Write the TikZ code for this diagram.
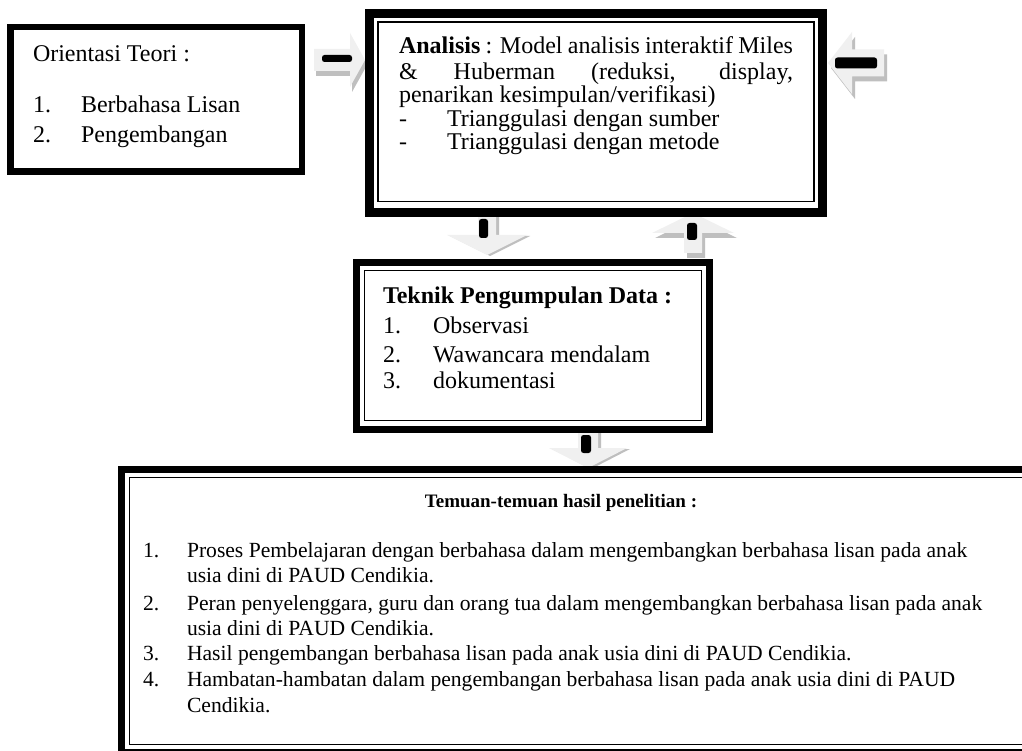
\documentclass[tikz,border=0pt]{standalone}
\usepackage{fontspec}
\setmainfont{Liberation Serif}
\newcommand{\arrshape}[4]{(-#1,-#3) -- (-#2,-#3) -- (-#2,-#4) -- (0,0) -- (-#2,#4) -- (-#2,#3) -- (-#1,#3) -- cycle}
\tikzset{
  framebox/.style={draw=black, fill=white, line width=#1, inner sep=0pt, outer sep=0pt},
  innerline/.style={draw=black, line width=1.6pt},
  txt/.style={anchor=base west, inner sep=0pt, outer sep=0pt, font=\fontsize{24}{28}\selectfont},
  smalltxt/.style={anchor=base west, inner sep=0pt, outer sep=0pt, font=\fontsize{21.6}{26}\selectfont},
  headtxt/.style={anchor=base, inner sep=0pt, outer sep=0pt, font=\fontsize{19}{22}\selectfont\bfseries},
  arrface/.style={fill=black!6},
  arrshadow/.style={fill=black!25},
  arrbar/.style={fill=black, rounded corners=2.5pt},
}
\begin{document}
\begin{tikzpicture}[x=1pt, y=-1pt]
\useasboundingbox (0,0) rectangle (1022,751);
\clip (0,0) rectangle (1022,751);
\fill[white] (0,0) rectangle (1022,751);

% ---- block arrows (shadow, face, bar) ----
% right arrow between Orientasi and Analisis
\begin{scope}[shift={(367,65)}]
  \fill[arrshadow] \arrshape{51}{15}{11}{27};
\end{scope}
\begin{scope}[shift={(365,60)}]
  \fill[arrface] \arrshape{51}{15}{11}{27};
  \fill[arrbar] (-43,-5) rectangle (-13,2);
\end{scope}
% left arrow at right of Analisis
\begin{scope}[shift={(831,68)}, rotate=180]
  \fill[arrshadow] \arrshape{56}{24}{13.5}{31};
\end{scope}
\begin{scope}[shift={(828,63)}, rotate=180]
  \fill[arrface] \arrshape{56}{24}{13.5}{31};
  \fill[arrbar] (-49,-5.5) rectangle (-7,5.5);
\end{scope}
% down arrow Analisis -> Teknik
\begin{scope}[shift={(490,256)}, rotate=-90]
  \fill[arrshadow] \arrshape{40}{20}{9}{40};
\end{scope}
\begin{scope}[shift={(487,255)}, rotate=-90]
  \fill[arrface] \arrshape{40}{20}{9}{40};
  \fill[arrbar] (-36,-1) rectangle (-17,8);
\end{scope}
% up arrow Teknik -> Analisis
\begin{scope}[shift={(696,218)}, rotate=90]
  \fill[arrshadow] \arrshape{40}{20}{9}{41};
\end{scope}
\begin{scope}[shift={(693,213)}, rotate=90]
  \fill[arrface] \arrshape{40}{20}{9}{41};
  \fill[arrbar] (-27,-6) rectangle (-10,4);
\end{scope}
% down arrow Teknik -> Temuan
\begin{scope}[shift={(591,469)}, rotate=-90]
  \fill[arrshadow] \arrshape{41}{20}{10}{39};
\end{scope}
\begin{scope}[shift={(588,468)}, rotate=-90]
  \fill[arrface] \arrshape{41}{20}{10}{39};
  \fill[arrbar] (-33,-3) rectangle (-15,7);
\end{scope}

% ---- boxes ----
\node[framebox=6.5pt, minimum width=291.5pt, minimum height=144.5pt] (orient) at (156,99.5) {};
\node[framebox=9pt, minimum width=453pt, minimum height=199pt] (analisis) at (596,113) {};
\draw[innerline] ([shift={(8.5,8.5)}]analisis.north west) rectangle ([shift={(-8.5,-11)}]analisis.south east);
\node[framebox=7pt, minimum width=353pt, minimum height=167pt] (teknik) at (533,346) {};
\draw[innerline] ([shift={(8,8)}]teknik.north west) rectangle ([shift={(-8,-9)}]teknik.south east);
\node[framebox=7pt, minimum width=930pt, minimum height=283pt] (temuan) at (586.5,611) {};
\draw[innerline] ([shift={(8,8)}]temuan.north west) rectangle ([shift={(-8,-8)}]temuan.south east);

% ---- Orientasi text ----
\node[txt] (ot) at (33,62) {Orientasi Teori :};
\node[txt] (o1n) at (33,113) {1.};
\node[txt] (o1) at (81,113) {Berbahasa Lisan};
\node[txt] (o2n) at (33,143) {2.};
\node[txt] (o2) at (81,143) {Pengembangan};

% ---- Analisis text ----
\node[txt] (a1) at (399,54) {\makebox[394pt][s]{\textbf{Analisis} : Model analisis interaktif Miles}};
\node[txt] (a2) at (399,80) {\makebox[394pt][s]{\& Huberman (reduksi, display,}};
\node[txt] (a3) at (399,103) {penarikan kesimpulan/verifikasi)};
\node[txt] (a4d) at (399,127) {-};
\node[txt] (a4) at (447,127) {Trianggulasi dengan sumber};
\node[txt] (a5d) at (399,150) {-};
\node[txt] (a5) at (447,150) {Trianggulasi dengan metode};

% ---- Teknik text ----
\node[txt] (t0) at (383,303) {\textbf{Teknik Pengumpulan Data :}};
\node[txt] (t1n) at (383,333) {1.};
\node[txt] (t1) at (433,333) {Observasi};
\node[txt] (t2n) at (383,362) {2.};
\node[txt] (t2) at (433,362) {Wawancara mendalam};
\node[txt] (t3n) at (383,388) {3.};
\node[txt] (t3) at (433,388) {dokumentasi};

% ---- Temuan text ----
\node[headtxt] (th) at (561,507) {Temuan-temuan hasil penelitian :};
\node[smalltxt] (l1n) at (143,557) {1.};
\node[smalltxt] (l1a) at (187,557) {Proses Pembelajaran dengan berbahasa dalam mengembangkan berbahasa lisan pada anak};
\node[smalltxt] (l1b) at (187,582) {usia dini di PAUD Cendikia.};
\node[smalltxt] (l2n) at (143,610) {2.};
\node[smalltxt] (l2a) at (187,610) {Peran penyelenggara, guru dan orang tua dalam mengembangkan berbahasa lisan pada anak};
\node[smalltxt] (l2b) at (187,635) {usia dini di PAUD Cendikia.};
\node[smalltxt] (l3n) at (143,660) {3.};
\node[smalltxt] (l3) at (187,660) {Hasil pengembangan berbahasa lisan pada anak usia dini di PAUD Cendikia.};
\node[smalltxt] (l4n) at (143,686) {4.};
\node[smalltxt] (l4a) at (187,686) {Hambatan-hambatan dalam pengembangan berbahasa lisan pada anak usia dini di PAUD};
\node[smalltxt] (l4b) at (187,712) {Cendikia.};
\end{tikzpicture}
\end{document}
